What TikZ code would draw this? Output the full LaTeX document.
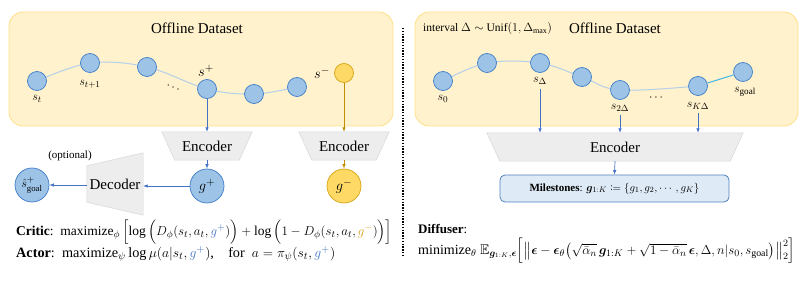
\documentclass[tikz,border=0pt]{standalone}
\usepackage{amsmath,amssymb,mathtools,bm}
\usepackage{graphicx}
\usepackage{fontspec}
\setmainfont{Liberation Serif}
\usetikzlibrary{arrows.meta,backgrounds}
\pgfdeclarelayer{bottom}
\pgfsetlayers{bottom,background,main}
\definecolor{panelfill}{HTML}{FFF2CC}
\definecolor{panelline}{HTML}{FFE08A}
\definecolor{cfill}{HTML}{9DC3E6}
\definecolor{cline}{HTML}{3D7CC9}
\definecolor{yfill}{HTML}{FFD966}
\definecolor{yline}{HTML}{D4A20F}
\definecolor{arrblue}{HTML}{4472C4}
\definecolor{arryel}{HTML}{C09000}
\definecolor{curvec}{HTML}{B4CFEA}
\definecolor{cyanseg}{HTML}{3FB8E8}
\definecolor{encfill}{HTML}{EDEDED}
\definecolor{encline}{HTML}{D6D6D6}
\definecolor{msfill}{HTML}{DEEBF7}
\definecolor{msline}{HTML}{4F81BD}
\definecolor{gblue}{HTML}{4472C4}
\definecolor{ggold}{HTML}{D4A017}
\begin{document}
\begin{tikzpicture}[x=1pt,y=-1pt,
 state/.style={circle,draw=cline,fill=cfill,line width=0.7pt,minimum size=19pt,inner sep=0pt},
 ystate/.style={state,draw=yline,fill=yfill},
 bigstate/.style={circle,draw=cline,fill=cfill,line width=0.7pt,minimum size=34pt,inner sep=0pt,font=\fontsize{15}{17}\selectfont},
 ybigstate/.style={bigstate,draw=yline,fill=yfill},
 panel/.style={draw=panelline,fill=panelfill,rounded corners=14pt,line width=0.8pt},
 lab/.style={font=\fontsize{13}{15}\selectfont,inner sep=1pt},
 biglab/.style={font=\fontsize{15}{17}\selectfont,inner sep=1pt},
 titletext/.style={font=\fontsize{15}{18}\selectfont},
 encbox/.style={font=\fontsize{15}{18}\selectfont,inner sep=0pt},
 trap/.style={fill=encfill,draw=encline,line width=0.5pt},
 barr/.style={-{Latex[length=4.5pt,width=3.5pt]},draw=arrblue,color=arrblue,line width=0.7pt},
 yarr/.style={barr,draw=arryel,color=arryel},
 curveline/.style={draw=curvec,line width=1pt},
 eqtext/.style={anchor=west,font=\fontsize{12.5}{15}\selectfont,inner sep=0pt}
]
\useasboundingbox (0,0) rectangle (806,286);

% panels
\begin{pgfonlayer}{bottom}
\draw[panel] (9,12) rectangle (393,126);
\draw[panel] (415,12) rectangle (798,126);
\end{pgfonlayer}
\draw[line width=1.6pt,dash pattern=on 1.4pt off 1.4pt] (403,28) -- (403,256);

% ---------- left panel ----------
\node[titletext] (t1) at (197,28) {Offline Dataset};
\node[state] (st) at (37,81) {};
\node[lab] (lst) at (37,99) {$s_t$};
\node[state] (s1) at (90,63) {};
\node[lab] (ls1) at (90,84) {$s_{t+1}$};
\node[state] (s2) at (147,67) {};
\node[lab,rotate=-25] (dl) at (174,88) {$\cdots$};
\node[state] (sp) at (207,89) {};
\node[biglab] (lsp) at (206,71) {$s^+$};
\node[state] (s4) at (254,94) {};
\node[state] (s5) at (297,87) {};
\node[ystate] (sm) at (344,73) {};
\node[biglab] (lsm) at (322,73) {$s^-$};
\begin{pgfonlayer}{background}
\draw[curveline] plot[smooth,tension=0.6] coordinates {(st) (s1) (s2) (sp) (s4) (s5)};
\end{pgfonlayer}

\node[encbox,minimum width=90pt,minimum height=28pt] (e1) at (207,146) {Encoder};
\node[encbox,minimum width=90pt,minimum height=28pt] (e2) at (344,146) {Encoder};
\node[bigstate] (gp) at (207,186) {$g^+$};
\node[ybigstate] (gm) at (344,186) {$g^-$};
\node[encbox,minimum width=56pt,minimum height=62pt] (dec) at (115,184) {Decoder};
\node[font=\fontsize{11}{13}\selectfont] (opt) at (70,156) {(optional)};
\node[bigstate,font=\fontsize{12.5}{14}\selectfont] (sg) at (32,185) {$\hat{s}^+_{\text{goal}}$};
\begin{pgfonlayer}{background}
\filldraw[trap] (e1.north west) -- (e1.north east) -- ([xshift=-13pt]e1.south east) -- ([xshift=13pt]e1.south west) -- cycle;
\filldraw[trap] (e2.north west) -- (e2.north east) -- ([xshift=-13pt]e2.south east) -- ([xshift=13pt]e2.south west) -- cycle;
\filldraw[trap] ([yshift=-13pt]dec.north west) -- (dec.north east) -- (dec.south east) -- ([yshift=13pt]dec.south west) -- cycle;
\end{pgfonlayer}

\draw[barr] (sp) -- (e1.north);
\draw[barr] (e1.south) -- (gp);
\draw[yarr] (sm) -- (e2.north);
\draw[yarr] (e2.south) -- (gm);
\draw[barr] (gp.west) -- (gp.west -| dec.east);
\draw[barr] (dec.west |- sg) -- (sg.east);

\node[eqtext] (crit) at (16,232) {\resizebox{376pt}{!}{\textbf{Critic}:\ \ maximize$_\phi \left[\log\Big(D_\phi(s_t,a_t,\textcolor{gblue}{g^+})\Big) + \log\Big(1-D_\phi(s_t,a_t,\textcolor{ggold}{g^-})\Big)\right]$}};
\node[eqtext] (act) at (16,254) {\resizebox{319pt}{!}{\textbf{Actor}:\ \ maximize$_\psi \log\mu(a|s_t,\textcolor{gblue}{g^+})$,\quad for \ $a=\pi_\psi(s_t,\textcolor{gblue}{g^+})$}};

% ---------- right panel ----------
\node[titletext] (t2) at (615,28) {Offline Dataset};
\node[anchor=west,font=\fontsize{11.5}{14}\selectfont,inner sep=0pt] (intv) at (423,29) {interval $\Delta\sim$ Unif$(1,\Delta_{\max})$};
\node[state] (r0) at (443,81) {};
\node[lab] (lr0) at (443,99) {$s_0$};
\node[state] (r1) at (487,63) {};
\node[state] (rD) at (540,63) {};
\node[lab] (lrD) at (540,81) {$s_\Delta$};
\node[state] (r3) at (582,77) {};
\node[state] (r2D) at (620,90) {};
\node[lab] (lr2D) at (620,108) {$s_{2\Delta}$};
\node[lab] (dr) at (657,98) {$\cdots$};
\node[state] (rK) at (698,86) {};
\node[lab] (lrK) at (698,106) {$s_{K\Delta}$};
\node[state] (rg) at (743,72) {};
\node[lab] (lrg) at (745,92) {$s_{\text{goal}}$};
\begin{pgfonlayer}{background}
\draw[curveline] plot[smooth,tension=0.6] coordinates {(r0) (r1) (rD) (r3) (r2D) (rK)};
\draw[draw=cyanseg,line width=1pt] (rK) -- (rg);
\end{pgfonlayer}

\node[encbox,minimum width=256pt,minimum height=28pt] (eR) at (615,147) {Encoder};
\begin{pgfonlayer}{background}
\filldraw[trap] (eR.north west) -- (eR.north east) -- ([xshift=-13pt]eR.south east) -- ([xshift=13pt]eR.south west) -- cycle;
\end{pgfonlayer}
\draw[barr] ([yshift=-3pt]lrD.south) -- (lrD.south |- eR.north);
\draw[barr] ([yshift=-2pt]lr2D.south) -- (lr2D.south |- eR.north);
\draw[barr] ([yshift=-2pt]lrK.south) -- (lrK.south |- eR.north);

\node[draw=msline,fill=msfill,rounded corners=5pt,minimum width=229pt,minimum height=27pt,line width=0.8pt,font=\fontsize{11}{13}\selectfont] (ms) at (614.5,188.5) {\textbf{Milestones}: $\bm{g}_{1:K} \coloneqq \{g_1,g_2,\cdots,g_K\}$};
\draw[barr] (eR.south) -- (ms.north);

\node[eqtext,font=\fontsize{13}{15}\selectfont] (dif) at (418,229) {\textbf{Diffuser}:};
\node[eqtext,font=\fontsize{13}{15}\selectfont] (dform) at (418,251) {\resizebox{377pt}{!}{minimize$_\theta\ \mathbb{E}_{\bm{g}_{1:K},\bm{\epsilon}}\Big[\big\|\bm{\epsilon} - \bm{\epsilon}_\theta\big(\sqrt{\bar\alpha_n}\,\bm{g}_{1:K} + \sqrt{1-\bar\alpha_n}\,\bm{\epsilon}, \Delta, n|s_0,s_{\text{goal}}\big)\big\|_2^2\Big]$}};
\end{tikzpicture}
\end{document}
